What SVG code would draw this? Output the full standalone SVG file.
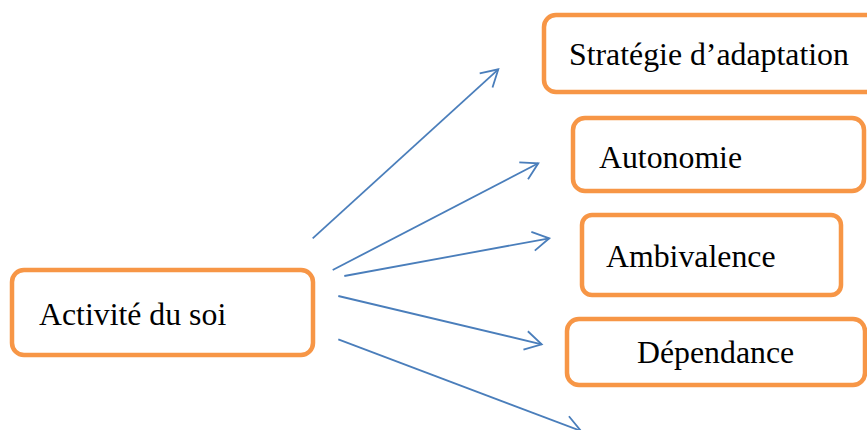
<svg xmlns="http://www.w3.org/2000/svg" width="867" height="430" viewBox="0 0 867 430">
<style>
.box{fill:#fff;stroke:#f79646;stroke-width:4.5}
.lbl{font-family:"Liberation Serif","Times New Roman",serif;font-size:31.8px;fill:#000}
.conn{stroke:#4a7ebb;stroke-width:1.8;fill:none}
</style>
<defs>
<marker id="arr" markerUnits="userSpaceOnUse" viewBox="-20 -12 22 24" refX="0" refY="0" markerWidth="22" markerHeight="24" orient="auto">
<path d="M-16.5,-9.5 L0,0 L-16.5,9.5" fill="none" stroke="#4a7ebb" stroke-width="1.8"/>
</marker>
</defs>
<rect width="867" height="430" fill="#fff"/>
<g id="connectors">
<line class="conn" x1="312.7" y1="238.3" x2="498.3" y2="69.3" marker-end="url(#arr)"/>
<line class="conn" x1="332.7" y1="270" x2="538.3" y2="163.3" marker-end="url(#arr)"/>
<line class="conn" x1="344.3" y1="276" x2="549.3" y2="238.3" marker-end="url(#arr)"/>
<line class="conn" x1="338.3" y1="296" x2="541.7" y2="344.3" marker-end="url(#arr)"/>
<line class="conn" x1="338.3" y1="339.3" x2="581" y2="431" marker-end="url(#arr)"/>
</g>
<g id="activite">
<rect class="box" x="12" y="270" width="301" height="85" rx="12"/>
<text class="lbl" x="39" y="325">Activité du soi</text>
</g>
<g id="strategie">
<rect class="box" x="544" y="15" width="340" height="77" rx="12"/>
<text class="lbl" x="569" y="65">Stratégie d’adaptation</text>
</g>
<g id="autonomie">
<rect class="box" x="573" y="118" width="291" height="73" rx="12"/>
<text class="lbl" x="599" y="168">Autonomie</text>
</g>
<g id="ambivalence">
<rect class="box" x="582" y="215" width="259" height="80" rx="10"/>
<text class="lbl" x="606" y="267">Ambivalence</text>
</g>
<g id="dependance">
<rect class="box" x="567" y="319" width="298" height="66" rx="12"/>
<text class="lbl" x="637" y="363">Dépendance</text>
</g>
</svg>
